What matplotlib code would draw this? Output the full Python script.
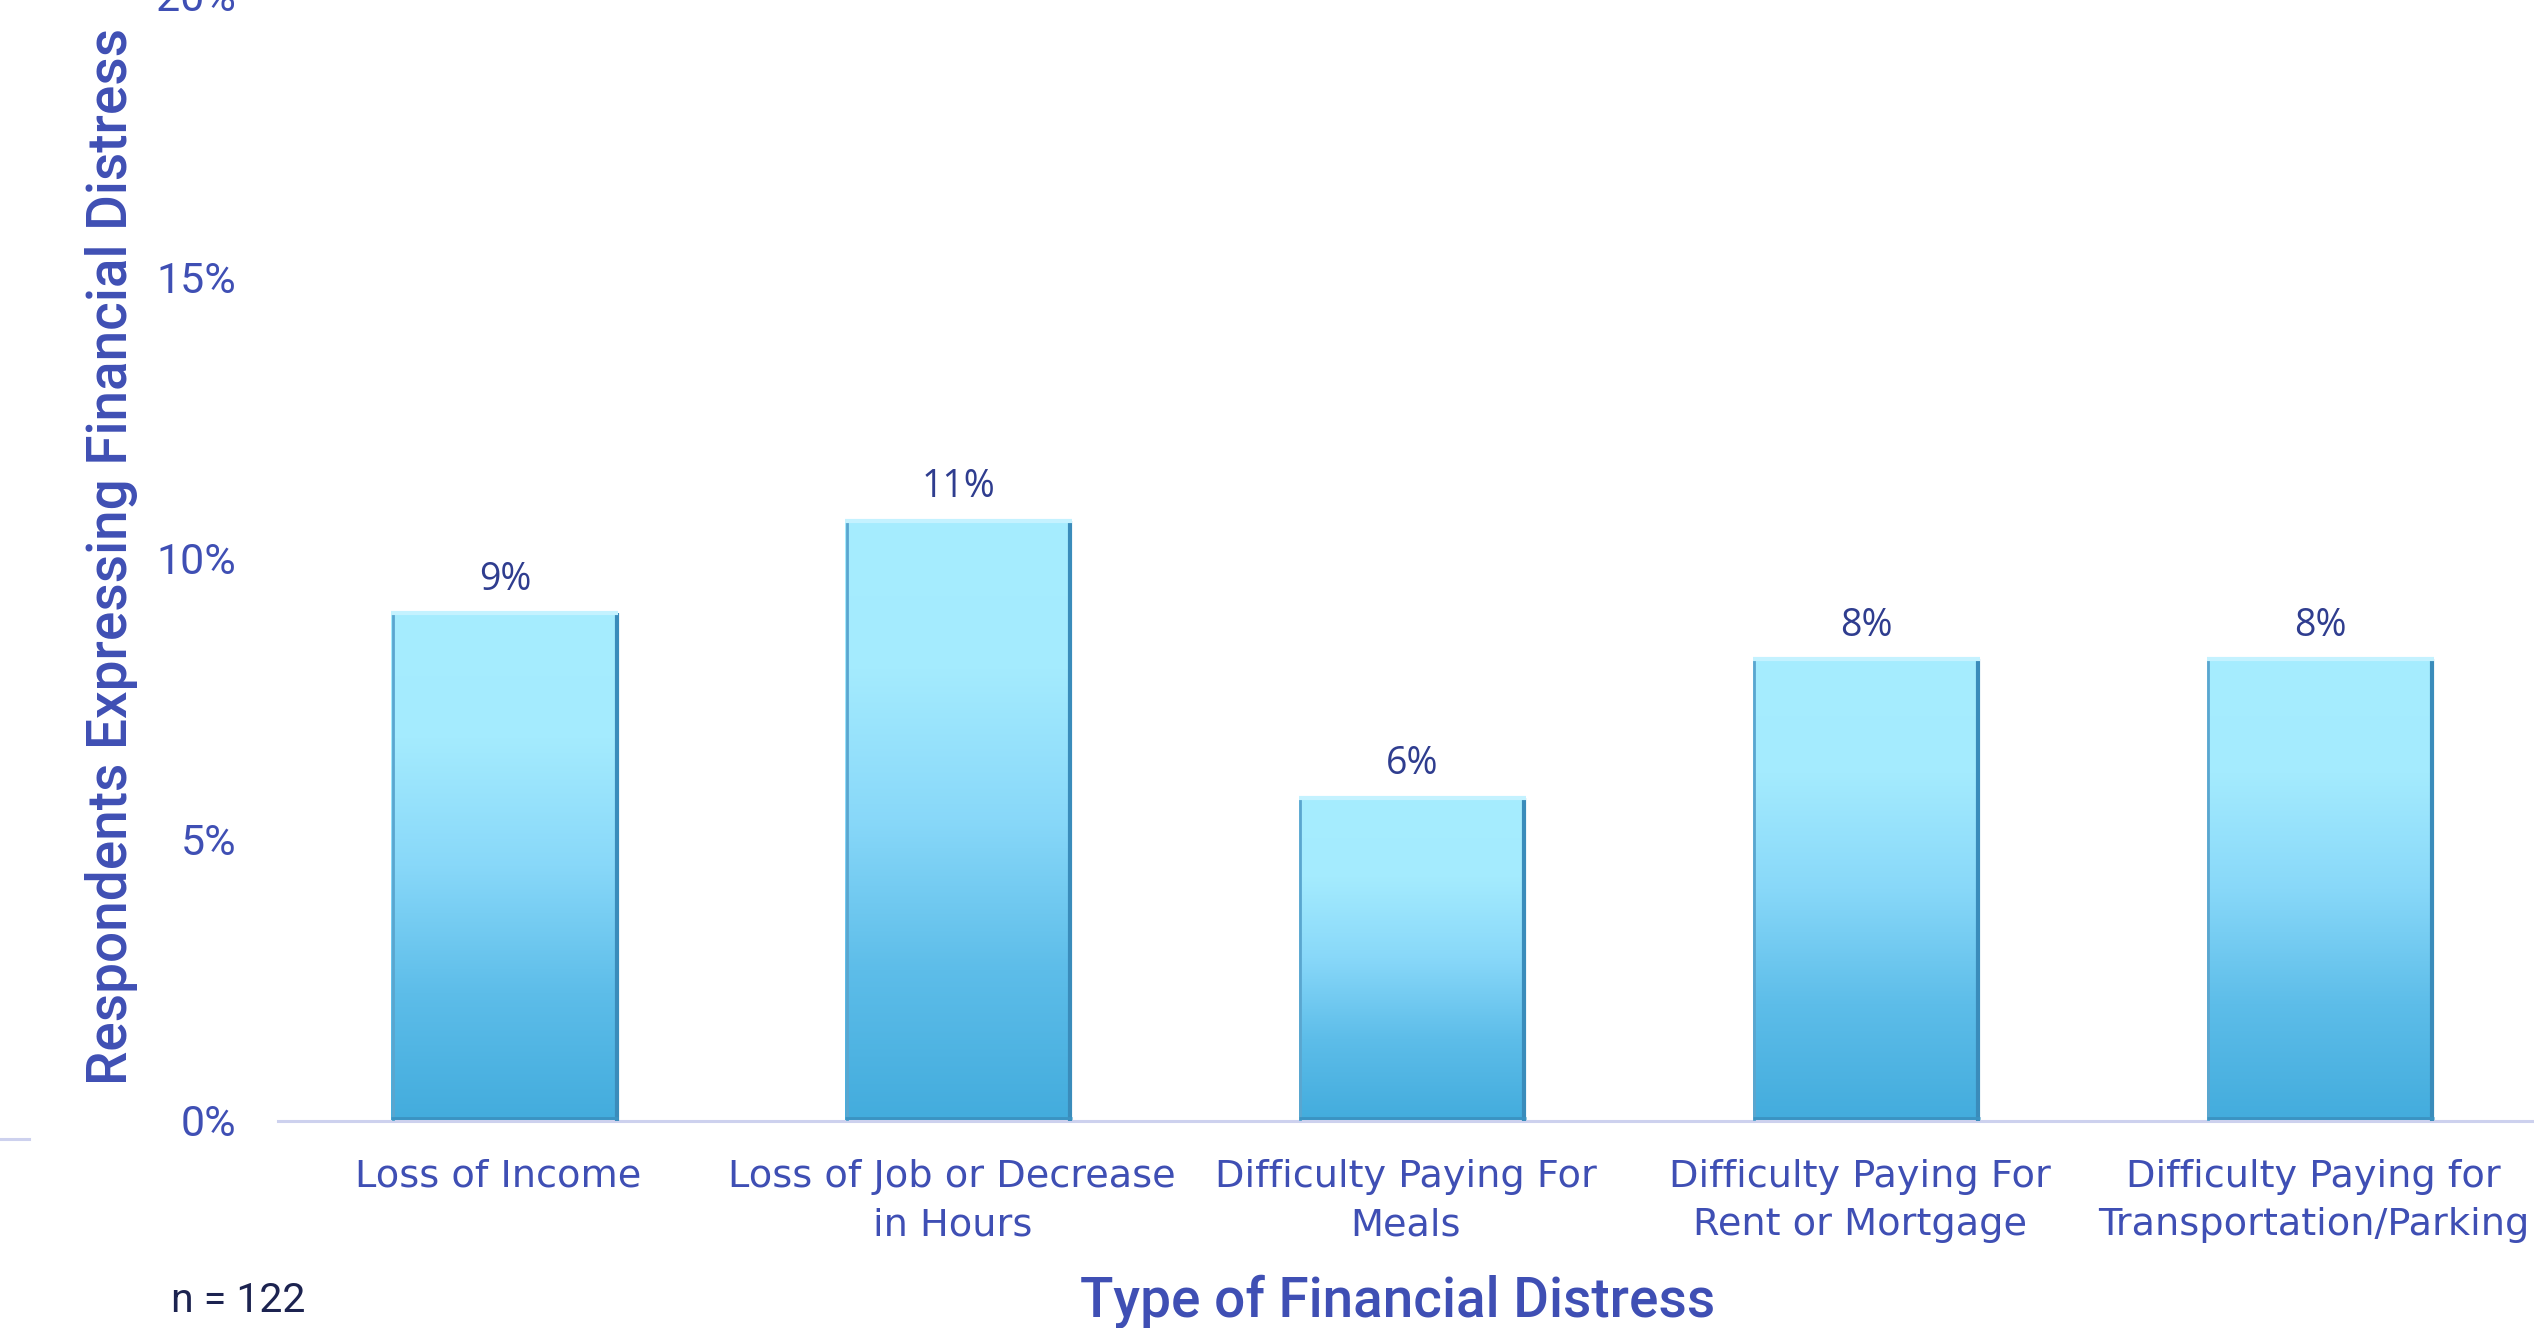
import matplotlib
matplotlib.use("Agg")
import matplotlib.pyplot as plt
import numpy as np
from matplotlib.colors import LinearSegmentedColormap
from matplotlib.lines import Line2D
from matplotlib.transforms import ScaledTranslation

# ---- data ----
categories = [
    "Loss of Income",
    "Loss of Job or Decrease\nin Hours",
    "Difficulty Paying For\nMeals",
    "Difficulty Paying For\nRent or Mortgage",
    "Difficulty Paying for\nTransportation/Parking",
]
values = [9.02, 10.66, 5.74, 8.20, 8.20]
value_labels = ["9%", "11%", "6%", "8%", "8%"]
yticks = [0, 5, 10, 15, 20]
ytick_labels = ["0%", "5%", "10%", "15%", "20%"]
n_label = "n = 122"
y_title = "Respondents Expressing Financial Distress"
x_title = "Type of Financial Distress"

BLUE = "#3F4FB4"
NAVY = "#2F3D8F"
DARK = "#1C2350"
AXLINE = "#CDD1EE"

W, H = 2534, 1328
fig = plt.figure(figsize=(W / 100, H / 100), dpi=100)
fig.patch.set_facecolor("white")

left = 278 / W
right = 2547 / W
bottom = 1 - 1120.5 / H
top = 1 + 4.8 / H
ax = fig.add_axes([left, bottom, right - left, top - bottom])
ax.set_facecolor("none")

x = np.arange(len(categories))
bw = 0.5
bars = ax.bar(x, values, width=bw, color="none", edgecolor="none", zorder=2)

cmap = LinearSegmentedColormap.from_list(
    "bar", ["#43ACDD", "#5DBDE9", "#88D8F9", "#A4EBFE", "#A6EDFF"])
grad = np.linspace(0, 1, 256).reshape(-1, 1)
for xi, v, b in zip(x, values, bars):
    im = ax.imshow(grad, cmap=cmap, aspect="auto", origin="lower",
                   extent=[xi - bw / 2, xi + bw / 2, 0, v], zorder=2,
                   interpolation="bicubic")
    im.set_clip_path(b)
    # bevel-like edges
    ax.plot([xi + bw / 2 - 0.004, xi + bw / 2 - 0.004], [0, v], color="#3A8CBB",
            lw=3, zorder=3, solid_capstyle="butt")
    ax.plot([xi - bw / 2 + 0.003, xi - bw / 2 + 0.003], [0, v], color="#5AA6CF",
            lw=2, zorder=3, solid_capstyle="butt")
    ax.plot([xi - bw / 2, xi + bw / 2], [v, v], color="#C4F2FF",
            lw=3, zorder=3, solid_capstyle="butt")
    ax.plot([xi - bw / 2, xi + bw / 2], [0.05, 0.05], color="#3B93C2",
            lw=2, zorder=3, solid_capstyle="butt")

for xi, v, lab in zip(x, values, value_labels):
    ax.annotate(lab, (xi, v), xytext=(0, 24), textcoords="offset points",
                ha="center", va="center", fontsize=27, color=NAVY,
                family=["Open Sans", "DejaVu Sans"])

ax.set_xlim(-0.5, 4.5)
ax.set_ylim(0, 20)
ax.set_yticks(yticks)
ax.set_yticklabels(ytick_labels, fontsize=31, color=BLUE, family="Roboto")
ax.set_xticks(x)
ax.set_xticklabels(categories, fontsize=27.5, color=BLUE, family="DejaVu Sans",
                   linespacing=1.45)
ax.tick_params(axis="y", length=0, pad=30)
ax.tick_params(axis="x", length=0, pad=27.5)
shift = ScaledTranslation(-6.5 / 100, 0, fig.dpi_scale_trans)
for lbl in ax.get_xticklabels():
    lbl.set_transform(lbl.get_transform() + shift)
for s in ["top", "right", "left"]:
    ax.spines[s].set_visible(False)
ax.spines["bottom"].set_color(AXLINE)
ax.spines["bottom"].set_linewidth(2.2)
ax.spines["bottom"].set_zorder(1)

fig.text(112 / W, 1 - 556 / H, y_title, rotation=90, ha="center", va="center",
         fontsize=39.5, color=BLUE, family="Roboto", fontweight="medium")
fig.text(1398 / W, 1 - 1301 / H, x_title, ha="center", va="center",
         fontsize=39.5, color=BLUE, family="Roboto", fontweight="medium")
fig.text(171 / W, 1 - 1301 / H, n_label, ha="left", va="center",
         fontsize=29.5, color=DARK, family="Roboto")

fig.add_artist(Line2D([0, 29 / W], [1 - 1139 / H, 1 - 1139 / H],
                      transform=fig.transFigure, color=AXLINE, lw=2.2))

fig.savefig("out.png", dpi=100, facecolor="white")
